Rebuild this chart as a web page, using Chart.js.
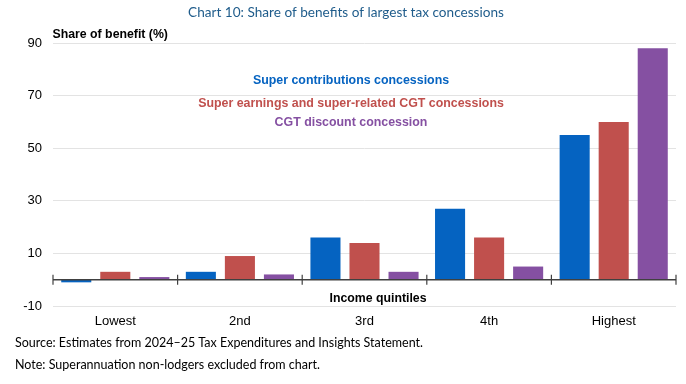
<!DOCTYPE html>
<html>
<head>
<meta charset="utf-8">
<script src="https://cdn.jsdelivr.net/npm/chart.js@4.4.1/dist/chart.umd.min.js"></script>
<style>
  html, body { margin: 0; padding: 0; background: #fff; }
  #wrap { position: relative; width: 686px; height: 384px; }
  canvas { display: block; }
</style>
</head>
<body>
<div id="wrap"><canvas id="c" width="686" height="384"></canvas></div>
<script>
// ---- data ----
const categories = ["Lowest", "2nd", "3rd", "4th", "Highest"];
const superContributions = [-1, 3, 16, 27, 55];
const superEarnings = [3, 9, 14, 16, 60];
const cgtDiscount = [1, 2, 3, 5, 88];
const seriesNames = [
  "Super contributions concessions",
  "Super earnings and super-related CGT concessions",
  "CGT discount concession"
];
const yTicks = [-10, 10, 30, 50, 70, 90];
const chartTitle = "Chart 10: Share of benefits of largest tax concessions";
const yTitle = "Share of benefit (%)";
const xTitle = "Income quintiles";
const notes = [
  "Source: Estimates from 2024\u201325 Tax Expenditures and Insights Statement.",
  "Note: Superannuation non-lodgers excluded from chart."
];

const colors = ["#0563C1", "#C0504D", "#8550A2"];
const SANS = "'Liberation Sans', Arial, sans-serif";
const CAL = "Lato, 'Open Sans', sans-serif";

const overlay = {
  id: 'overlay',
  afterDatasetsDraw(chart) {
    const ctx = chart.ctx;
    const x = chart.scales.x, y = chart.scales.y;
    const area = chart.chartArea;
    const y0 = y.getPixelForValue(0);
    ctx.save();
    // zero axis line
    ctx.strokeStyle = "#404040";
    ctx.lineWidth = 1.5;
    ctx.beginPath();
    ctx.moveTo(area.left, y0);
    ctx.lineTo(area.right, y0);
    ctx.stroke();
    // category boundary tick marks
    const half = (x.getPixelForValue(1) - x.getPixelForValue(0)) / 2;
    ctx.lineWidth = 1.2;
    for (let i = 0; i <= categories.length; i++) {
      const px = (i < categories.length ? x.getPixelForValue(i) - half : x.getPixelForValue(i - 1) + half);
      ctx.beginPath();
      ctx.moveTo(px, y0 - 5);
      ctx.lineTo(px, y0 + 5);
      ctx.stroke();
    }
    // x title
    ctx.fillStyle = "#000";
    ctx.font = "bold 12.3px " + SANS;
    ctx.textAlign = "center";
    ctx.textBaseline = "middle";
    ctx.fillText(xTitle, 378, 299);
    // legend text
    const lys = [81, 104, 123];
    chart.data.datasets.forEach((ds, i) => {
      ctx.fillStyle = ds.backgroundColor;
      ctx.font = "bold 12.4px " + SANS;
      ctx.fillText(ds.label, 351, lys[i]);
    });
    // y title
    ctx.textAlign = "left";
    ctx.fillStyle = "#000";
    ctx.font = "bold 12.3px " + SANS;
    ctx.fillText(yTitle, 52.5, 35);
    // chart title
    ctx.textAlign = "center";
    ctx.fillStyle = "#1F5C8B";
    ctx.font = "13.6px " + CAL;
    ctx.fillText(chartTitle, 346, 12.5);
    // notes
    ctx.textAlign = "left";
    ctx.fillStyle = "#000";
    ctx.font = "12.5px " + CAL;
    ctx.fillText(notes[0], 15, 343);
    ctx.fillText(notes[1], 15, 365);
    ctx.restore();
  }
};

new Chart(document.getElementById('c'), {
  type: 'bar',
  data: {
    labels: categories,
    datasets: [
      { label: seriesNames[0], data: superContributions, backgroundColor: colors[0] },
      { label: seriesNames[1], data: superEarnings, backgroundColor: colors[1] },
      { label: seriesNames[2], data: cgtDiscount, backgroundColor: colors[2] }
    ]
  },
  options: {
    responsive: false,
    animation: false,
    devicePixelRatio: 1,
    layout: { padding: { top: 43, right: 10, bottom: 48, left: 0 } },
    datasets: { bar: { categoryPercentage: 0.94, barPercentage: 0.77 } },
    plugins: { legend: { display: false }, title: { display: false }, tooltip: { enabled: false } },
    scales: {
      x: {
        grid: { display: false, drawTicks: false },
        border: { display: false },
        ticks: { color: "#000", font: { family: SANS, size: 13 }, padding: 8, maxRotation: 0 },
        afterFit(s) { s.height = 30; }
      },
      y: {
        min: -10, max: 90,
        afterBuildTicks(s) { s.ticks = yTicks.map(v => ({ value: v })); },
        grid: { color: "#E3E3E3", lineWidth: 1, drawTicks: false },
        border: { display: false },
        ticks: { color: "#000", font: { family: SANS, size: 13 }, padding: 11 },
        afterFit(s) { s.width = 53; }
      }
    }
  },
  plugins: [overlay]
});
</script>
</body>
</html>
